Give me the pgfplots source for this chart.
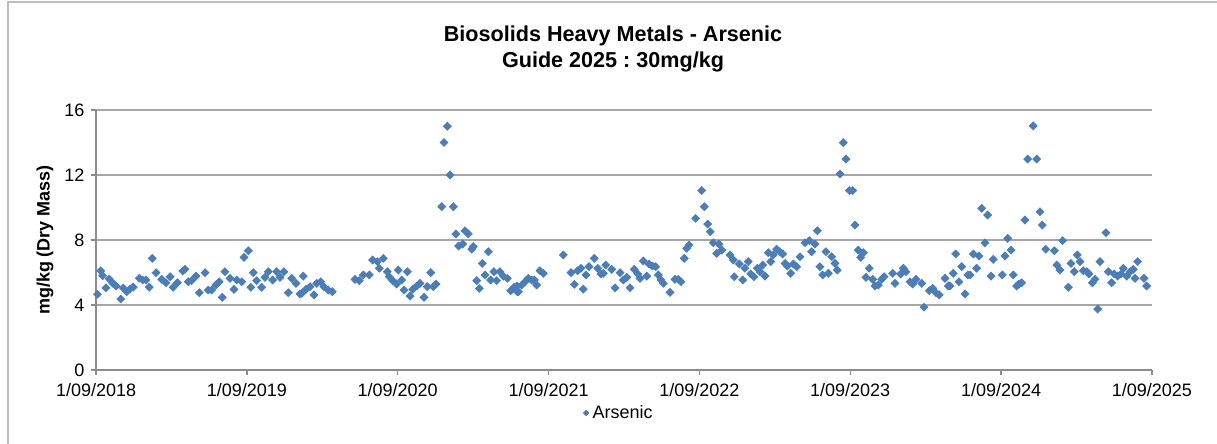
\documentclass[border=0pt]{standalone}
\usepackage{pgfplots}
\pgfplotsset{compat=1.18}
\usepackage{fontspec}
\setmainfont{Liberation Sans}
\frenchspacing
\definecolor{mk}{HTML}{4A7EBB}
\definecolor{gridc}{HTML}{A6A6A6}
\definecolor{axc}{HTML}{8C8C8C}
\definecolor{framec}{HTML}{BDBDBD}
\begin{document}
\begin{tikzpicture}[x=0.556pt,y=0.556pt]
\useasboundingbox (0,0) rectangle (1217,444);
\draw[framec, line width=1.2pt] (8,0) -- (8,442) -- (1217,442);
\node[font=\bfseries\fontsize{12}{14.5}\selectfont, align=center] at (613,395) {Biosolids Heavy Metals - Arsenic\\Guide 2025 : 30mg/kg};
\node[font=\bfseries\fontsize{10}{12}\selectfont, rotate=90] at (45,204) {mg/kg (Dry Mass)};
\begin{axis}[
  at={(53.38pt,41.14pt)}, anchor=south west,
  width=587.1pt, height=144.56pt, scale only axis,
  xmin=0, xmax=7, ymin=0, ymax=16,
  xtick={0,1,2,3,4,5,6,7},
  xticklabels={1/09/2018,1/09/2019,1/09/2020,1/09/2021,1/09/2022,1/09/2023,1/09/2024,1/09/2025},
  ytick={0,4,8,12,16},
  axis lines=left, axis line style={-, axc, line width=0.8pt},
  tick align=outside, major tick length=3pt,
  tick style={axc, line width=0.8pt},
  ymajorgrids, grid style={gridc, line width=0.9pt},
  /pgf/number format/assume math mode=true,
  tick label style={font=\fontsize{10}{12}\selectfont},
  xticklabel style={yshift=-1pt},
  legend style={at={(0.496,-0.165)}, anchor=center, draw=none, fill=none, font=\fontsize{10}{12}\selectfont, inner sep=0pt},
  legend image code/.code={\draw[mark repeat=2,mark phase=2, mark size=1.1pt] plot coordinates {(0cm,0cm) (0.15cm,0cm) (0.3cm,0cm)};},
  clip=false,
]
\addplot[only marks, mark=square*, mark size=1.55pt, mark options={rotate=45, fill=mk, draw=mk}] coordinates {
(0.010,4.66)(0.031,6.10)(0.044,5.80)(0.066,5.06)(0.088,5.60)(0.111,5.35)(0.133,5.17)(0.164,4.37)(0.181,5.04)(0.204,4.82)
(0.225,4.98)(0.247,5.10)(0.287,5.65)(0.310,5.54)(0.331,5.54)(0.353,5.10)(0.373,6.87)(0.398,5.99)(0.436,5.58)(0.464,5.37)
(0.491,5.74)(0.512,5.09)(0.539,5.37)(0.575,6.09)(0.590,6.20)(0.612,5.43)(0.634,5.50)(0.663,5.78)(0.685,4.76)(0.723,5.99)
(0.744,4.92)(0.767,4.92)(0.795,5.23)(0.817,5.43)(0.837,4.47)(0.855,6.05)(0.888,5.64)(0.915,4.96)(0.933,5.54)(0.966,5.43)
(0.981,6.93)(1.010,7.34)(1.026,5.09)(1.043,5.99)(1.065,5.50)(1.098,5.09)(1.120,5.70)(1.142,6.05)(1.171,5.54)(1.198,6.05)
(1.220,5.70)(1.246,6.05)(1.275,4.76)(1.297,5.64)(1.326,5.33)(1.352,4.68)(1.374,5.78)(1.364,4.72)(1.392,4.96)(1.419,5.13)
(1.445,4.62)(1.463,5.33)(1.490,5.43)(1.511,5.13)(1.540,4.92)(1.566,4.82)
(1.717,5.58)(1.745,5.50)(1.772,5.85)(1.812,5.85)(1.834,6.77)(1.865,6.67)(1.878,6.26)(1.905,6.87)(1.931,6.05)(1.944,5.74)
(1.967,5.50)(1.993,5.29)(2.004,6.15)(2.027,5.54)(2.042,4.92)(2.064,6.05)(2.082,4.55)(2.099,4.96)(2.126,5.17)(2.148,5.33)
(2.174,4.47)(2.196,5.13)(2.219,5.99)(2.236,5.13)(2.254,5.29)(2.292,10.05)(2.307,14.00)(2.329,15.00)(2.347,12.00)(2.369,10.05)
(2.386,8.37)(2.404,7.63)(2.431,7.75)(2.446,8.57)(2.468,8.37)(2.491,7.43)(2.501,7.59)(2.524,5.50)(2.541,5.02)(2.561,6.56)
(2.579,5.85)(2.601,7.28)(2.616,5.54)(2.638,6.05)(2.656,5.50)(2.678,6.05)(2.700,5.78)(2.727,5.64)(2.749,4.88)(2.771,5.09)
(2.793,4.82)(2.790,5.17)(2.800,4.82)(2.822,5.23)(2.844,5.43)(2.866,5.64)(2.888,5.54)(2.906,5.54)(2.921,5.23)(2.943,6.11)
(2.965,5.95)
(3.098,7.08)(3.149,5.99)(3.171,5.27)(3.193,6.11)(3.215,6.26)(3.230,4.98)(3.248,5.85)(3.268,6.36)(3.303,6.87)(3.326,6.26)
(3.348,5.91)(3.363,5.95)(3.379,6.46)(3.419,6.19)(3.441,5.06)(3.474,5.99)(3.496,5.54)(3.518,5.70)(3.540,5.06)(3.568,6.19)
(3.591,5.91)(3.606,5.64)(3.628,6.71)(3.651,5.78)(3.666,6.52)(3.688,6.40)(3.710,6.36)(3.728,5.85)(3.745,5.54)(3.761,5.33)
(3.805,4.78)(3.838,5.58)(3.860,5.58)(3.878,5.43)(3.900,6.87)(3.916,7.49)(3.931,7.69)(3.975,9.33)(4.015,11.04)(4.033,10.05)
(4.055,8.98)(4.072,8.51)(4.092,7.83)(4.115,7.18)(4.130,7.75)(4.148,7.38)(4.203,7.08)(4.225,6.77)(4.231,5.74)
(4.265,6.52)(4.287,5.54)(4.302,6.26)(4.324,6.67)(4.340,5.91)(4.362,5.74)(4.384,6.26)(4.402,6.05)(4.420,6.46)(4.435,5.78)
(4.457,7.22)(4.473,6.67)(4.490,7.08)(4.512,7.43)(4.534,7.28)(4.552,7.14)(4.568,6.56)(4.583,6.40)(4.605,5.95)(4.623,6.52)
(4.645,6.36)(4.667,6.97)(4.700,7.83)(4.729,7.96)(4.744,7.28)(4.766,7.75)(4.782,8.57)(4.799,6.36)(4.817,5.85)(4.839,7.28)
(4.855,5.95)(4.877,6.97)(4.899,6.56)(4.914,6.15)(4.932,12.06)(4.954,13.99)(4.972,12.98)(4.994,11.04)(5.016,11.04)(5.031,8.92)
(5.053,7.38)(5.069,6.93)(5.087,7.22)(5.104,5.70)(5.126,6.26)(5.149,5.58)(5.164,5.17)(5.186,5.23)(5.208,5.58)(5.224,5.74)
(5.281,5.95)(5.297,5.33)(5.334,5.91)(5.352,6.26)(5.369,6.05)(5.396,5.43)(5.414,5.29)(5.436,5.58)(5.474,5.33)(5.489,3.86)
(5.524,4.88)(5.547,5.02)(5.568,4.76)(5.590,4.62)(5.628,5.64)(5.650,5.17)(5.661,5.17)(5.683,5.95)(5.699,7.14)(5.721,5.43)
(5.739,6.36)(5.761,4.68)(5.779,5.85)(5.794,5.85)(5.816,7.14)(5.838,6.26)(5.853,7.02)(5.871,9.95)(5.893,7.83)(5.911,9.54)
(5.933,5.78)(5.948,6.81)(6.008,5.85)(6.026,7.02)(6.044,8.10)(6.066,7.38)(6.081,5.85)(6.103,5.17)(6.119,5.29)(6.136,5.37)
(6.158,9.23)(6.176,12.98)(6.213,15.02)(6.236,12.98)(6.258,9.74)(6.273,8.92)(6.296,7.43)(6.353,7.34)(6.369,6.46)(6.390,6.15)
(6.408,7.96)(6.446,5.09)(6.463,6.56)(6.485,6.05)(6.505,7.08)(6.523,6.67)(6.545,6.11)(6.568,6.05)(6.583,5.91)(6.605,5.37)
(6.622,5.58)(6.640,3.75)(6.656,6.67)(6.695,8.45)(6.711,6.05)(6.733,5.37)(6.750,5.91)(6.773,5.78)(6.795,5.91)(6.810,6.26)
(6.833,5.78)(6.855,6.05)(6.876,6.19)(6.888,5.64)(6.905,6.67)(6.947,5.64)(6.965,5.17)
};
\addlegendentry{Arsenic}
\end{axis}
\end{tikzpicture}
\end{document}
